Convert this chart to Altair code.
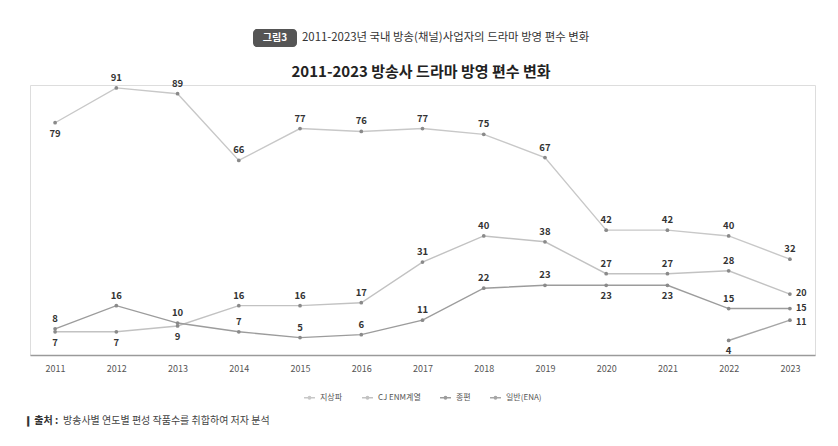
import altair as alt
import pandas as pd

FONT = "Noto Sans CJK KR"

years = list(range(2011, 2024))
series_names = ["지상파", "CJ ENM계열", "종편", "일반(ENA)"]
terrestrial = [79, 91, 89, 66, 77, 76, 77, 75, 67, 42, 42, 40, 32]
cj_enm = [7, 7, 9, 16, 16, 17, 31, 40, 38, 27, 27, 28, 20]
jongpyeon = [8, 16, 10, 7, 5, 6, 11, 22, 23, 23, 23, 15, 15]
ena_years = [2022, 2023]
ena = [4, 11]

# label placement relative to each point
terrestrial_pos = ["below"] + ["above"] * 12
cj_pos = ["below"] * 3 + ["above"] * 9 + ["right"]
jong_pos = ["above"] * 9 + ["below"] * 2 + ["above", "right"]
ena_pos = ["below", "right_low"]

line_colors = ["#c8c8c8", "#c2c2c2", "#9c9c9c", "#a6a6a6"]

rows = []
for name, ys, vals, pos in [
    (series_names[0], years, terrestrial, terrestrial_pos),
    (series_names[1], years, cj_enm, cj_pos),
    (series_names[2], years, jongpyeon, jong_pos),
    (series_names[3], ena_years, ena, ena_pos),
]:
    for y, v, p in zip(ys, vals, pos):
        rows.append({"year": y, "series": name, "value": v, "pos": p})
df = pd.DataFrame(rows)

base = alt.Chart(df).encode(
    x=alt.X(
        "year:O",
        scale=alt.Scale(type="point", padding=0.41),
        axis=alt.Axis(
            title=None, labelAngle=0, ticks=False, domainColor="#9a9a9a",
            domainWidth=1.5, labelFontSize=9, labelColor="#555",
            labelPadding=9, labelFont=FONT,
        ),
    ),
    y=alt.Y("value:Q", scale=alt.Scale(domain=[-1, 92]), axis=None),
)

lines = base.mark_line(strokeWidth=1.4).encode(
    color=alt.Color(
        "series:N",
        scale=alt.Scale(domain=series_names, range=line_colors),
        legend=alt.Legend(
            title=None, orient="none", legendX=273, legendY=306,
            direction="horizontal", labelFont=FONT, labelFontSize=8,
            labelColor="#555", columnPadding=16, symbolStrokeWidth=1.4,
            symbolType="M-1,0L1,0M-0.22,0A0.22,0.22,0,1,0,0.22,0A0.22,0.22,0,1,0,-0.22,0",
            symbolSize=120,
        ),
    )
)

points = base.mark_circle(size=14, color="#8a8a8a", opacity=1)

lab_style = dict(fontWeight="bold", fontSize=9.5, color="#333", font=FONT)
right_style = dict(fontWeight="bold", fontSize=9, color="#333", font=FONT)
above = base.mark_text(dy=-10, **lab_style).encode(text="value:Q").transform_filter(
    alt.datum.pos == "above")
below = base.mark_text(dy=11, **lab_style).encode(text="value:Q").transform_filter(
    alt.datum.pos == "below")
right = base.mark_text(dx=6, dy=-1, align="left", **right_style).encode(
    text="value:Q").transform_filter(alt.datum.pos == "right")
right_low = base.mark_text(dx=6, dy=2, align="left", **right_style).encode(
    text="value:Q").transform_filter(alt.datum.pos == "right_low")

one = pd.DataFrame({"k": [0]})
badge = alt.Chart(one).mark_rect(cornerRadius=4, color="#555555").encode(
    x=alt.value(223), x2=alt.value(267), y=alt.value(-56), y2=alt.value(-38))
badge_text = alt.Chart(one).mark_text(
    text="그림3", color="white", fontWeight="bold", fontSize=10, font=FONT,
    align="center", baseline="middle").encode(x=alt.value(245), y=alt.value(-47))
sub_text = alt.Chart(one).mark_text(
    text="2011-2023년 국내 방송(채널)사업자의 드라마 방영 편수 변화", color="#333",
    fontSize=11.4, font=FONT, align="left", baseline="middle").encode(
    x=alt.value(272), y=alt.value(-47))
main_title = alt.Chart(one).mark_text(
    text="2011-2023 방송사 드라마 방영 편수 변화", color="#222", fontWeight="bold",
    fontSize=15, font=FONT, align="center", baseline="middle").encode(
    x=alt.value(391), y=alt.value(-13))
src_bold = alt.Chart(one).mark_text(
    text="❙ 출처 :", color="#333", fontWeight="bold", fontSize=10, font=FONT,
    align="left", baseline="middle").encode(x=alt.value(-6), y=alt.value(336))
src_rest = alt.Chart(one).mark_text(
    text="방송사별 연도별 편성 작품수를 취합하여 저자 분석", color="#444",
    fontSize=10, font=FONT, align="left", baseline="middle").encode(
    x=alt.value(33), y=alt.value(336))

chart = alt.layer(
    lines, points, above, below, right, right_low,
    badge, badge_text, sub_text, main_title, src_bold, src_rest,
).properties(
    width=785, height=270,
    autosize=alt.AutoSizeParams(type="none"),
    padding={"left": 30, "top": 85, "right": 23, "bottom": 91},
).configure_view(stroke=None).configure(background="white")

chart.save("out.html", embed_options={"renderer": "svg", "actions": False})
